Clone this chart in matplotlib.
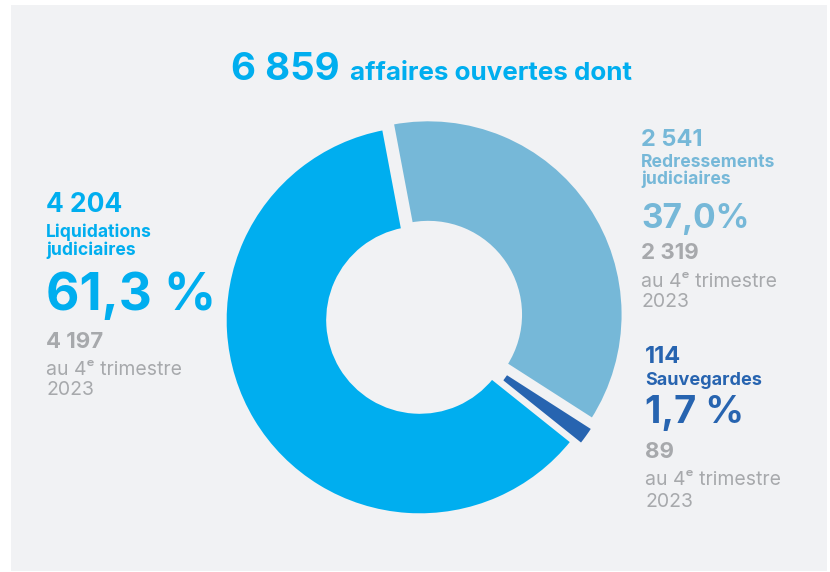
#!/usr/bin/env python3
"""Donut chart: affaires ouvertes par type de procédure."""

import matplotlib.pyplot as plt
from matplotlib.patches import Rectangle

W, H = 830, 572

# data (clockwise order starting from the top)
categories = ["Redressements judiciaires", "Sauvegardes", "Liquidations judiciaires"]
counts = [2541, 114, 4204]
pct_labels = ["37,0%", "1,7 %", "61,3 %"]
count_labels = ["2 541", "114", "4 204"]
prev_labels = ["2 319", "89", "4 197"]
total_label = "6 859"

COLORS = ["#76b8d8", "#2764b0", "#00aeef"]
GRAY = "#a7a9ac"
BG = "#f1f2f4"

plt.rcParams["font.family"] = ["Inter", "DejaVu Sans"]


def y(img_y):
    # image coordinates -> data coordinates (y up)
    return H - img_y


fig = plt.figure(figsize=(W / 100, H / 100), dpi=100, facecolor="white")
ax = fig.add_axes([0, 0, 1, 1])

ax.add_patch(Rectangle((11, y(571)), 816, 566, facecolor=BG, edgecolor="none", zorder=0))

ax.pie(
    counts,
    colors=COLORS,
    center=(422.5, y(318.5)),
    radius=195,
    startangle=100.7,
    counterclock=False,
    explode=[7, 8, 3],
    wedgeprops=dict(width=103, edgecolor=BG, linewidth=2.5),
    frame=True,
)
ax.set_xlim(0, W)
ax.set_ylim(0, H)
ax.axis("off")

# title
ax.text(231, y(80), total_label, color=COLORS[2], fontsize=27.7, fontweight="bold", va="baseline")
ax.text(350, y(80), "affaires ouvertes dont", color=COLORS[2], fontsize=18.7,
        fontweight="bold", va="baseline")


def block(x, y0, idx, name_lines, num_size, name_size, pct_size, pct_base, rows):
    c = COLORS[idx]
    ax.text(x, y(y0), count_labels[idx], color=c, fontsize=num_size, fontweight="bold", va="baseline")
    for text, base in name_lines:
        ax.text(x, y(base), text, color=c, fontsize=name_size, fontweight="bold", va="baseline")
    ax.text(x, y(pct_base), pct_labels[idx], color=c, fontsize=pct_size, fontweight="bold", va="baseline")
    ax.text(x, y(rows[0]), prev_labels[idx], color=GRAY, fontsize=16, fontweight="bold", va="baseline")
    ax.text(x, y(rows[1]), "au 4ᵉ trimestre", color=GRAY, fontsize=14, va="baseline")
    ax.text(x, y(rows[2]), "2023", color=GRAY, fontsize=14, va="baseline")


block(46, 212, 2, [("Liquidations", 237), ("judiciaires", 255)], 19, 12.6, 37, 310, (348, 375, 395))
block(641, 146, 0, [("Redressements", 167), ("judiciaires", 184)], 17, 12.6, 24, 228, (259, 287, 307))
block(645, 363, 1, [("Sauvegardes", 385)], 17, 13, 27.5, 423, (458, 485, 507))

fig.savefig("out.png", dpi=100, facecolor="white")
